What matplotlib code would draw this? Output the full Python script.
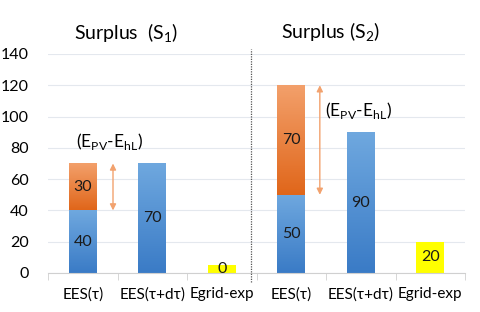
import numpy as np
import matplotlib
matplotlib.use("Agg")
import matplotlib.pyplot as plt
from matplotlib.colors import LinearSegmentedColormap

plt.rcParams['font.family'] = ['Lato', 'DejaVu Sans']

## データ
categories = ["EES(τ)", "EES(τ+dτ)", "Egrid-exp", "EES(τ)", "EES(τ+dτ)", "Egrid-exp"]
blue_vals = [40, 70, 0, 50, 90, 0]
orange_vals = [30, 0, 0, 70, 0, 0]
yellow_cat = [2, 5]
yellow_data = [0, 20]
titles = ["Surplus  (S$_{\\mathregular{1}}$)", "Surplus (S$_{\\mathregular{2}}$)"]
yticks = [0, 20, 40, 60, 80, 100, 120, 140]

BAR_W = 0.40
blue_cmap = LinearSegmentedColormap.from_list("b", ["#3A7BC6", "#6FA8DF"])
orange_cmap = LinearSegmentedColormap.from_list("o", ["#E0661A", "#F3A06B"])


def gradient_bar(ax, x, bottom, height, cmap):
    if height <= 0:
        return
    bars = ax.bar(x, height, BAR_W, bottom=bottom, color="none", linewidth=0)
    patch = bars[0]
    grad = np.linspace(0, 1, 256).reshape(-1, 1)
    im = ax.imshow(grad, cmap=cmap, origin="lower", aspect="auto",
                   extent=(x - BAR_W / 2, x + BAR_W / 2, bottom, bottom + height),
                   zorder=2)
    im.set_clip_path(patch)


def main():
    fig = plt.figure(figsize=(4.8, 3.12), dpi=100)
    ax = fig.add_axes([0.10, 0.125, 0.869, 0.702])

    x = np.arange(len(categories))
    for i in x:
        gradient_bar(ax, i, 0, blue_vals[i], blue_cmap)
        gradient_bar(ax, i, blue_vals[i], orange_vals[i], orange_cmap)
        if blue_vals[i] > 0:
            ax.text(i, blue_vals[i] / 2, str(blue_vals[i]), ha="center", va="center",
                    fontsize=11.5, color="#1a1a1a", zorder=4)
        if orange_vals[i] > 0:
            ax.text(i, blue_vals[i] + orange_vals[i] / 2, str(orange_vals[i]),
                    ha="center", va="center", fontsize=11.5, color="#1a1a1a", zorder=4)

    # yellow (grid export) - zero value still shows a small box like the original
    for c, v in zip(yellow_cat, yellow_data):
        h = max(v, 5)
        ax.bar(c, h, BAR_W, color="#FFFF00", linewidth=0, zorder=2)
        ax.text(c, h / 2, str(v), ha="center", va="center", fontsize=11.5,
                color="#1a1a1a", zorder=4)

    ## 軸
    ax.set_xlim(-0.5, 5.5)
    ax.set_ylim(0, 140)
    ax.set_yticks(yticks)
    ax.set_xticks(x)
    ax.set_xticklabels(categories)
    ax.set_xticks(np.arange(-0.5, 6, 1), minor=True)
    ax.tick_params(axis="x", which="major", length=0, pad=10, labelsize=11)
    ax.tick_params(axis="x", which="minor", length=5, color="#D0D0D0")
    ax.tick_params(axis="y", length=0, pad=14, labelsize=11.5)
    for s in ["top", "right", "left"]:
        ax.spines[s].set_visible(False)
    ax.spines["bottom"].set_color("#D0D0D0")
    ax.grid(axis="y", color="#E4E8EE", linewidth=0.8, zorder=0)
    ax.set_axisbelow(True)

    # 区切り線
    ax.plot([2.42, 2.42], [-6, 143], linestyle=(0, (1, 1)), color="#555555",
            linewidth=0.9, clip_on=False, zorder=3)

    # 矢印と注記
    arrow_kw = dict(arrowstyle="<|-|>", color="#F2A26E", lw=1.0,
                    mutation_scale=9, shrinkA=0, shrinkB=0)
    ax.annotate("", xy=(0.435, 70), xytext=(0.435, 40), arrowprops=arrow_kw, zorder=3)
    ax.annotate("", xy=(3.41, 120), xytext=(3.41, 50), arrowprops=arrow_kw, zorder=3)
    label = "(E$_{\\mathregular{PV}}$-E$_{\\mathregular{hL}}$)"
    ax.text(0.39, 84, label, ha="center", va="center", fontsize=12.5)
    ax.text(3.96, 104, label, ha="center", va="center", fontsize=12.5)

    fig.text(0.262, 0.893, titles[0], ha="center", va="center", fontsize=14)
    fig.text(0.688, 0.896, titles[1], ha="center", va="center", fontsize=14)

    fig.savefig("out.png", dpi=100)


if __name__ == "__main__":
    main()
